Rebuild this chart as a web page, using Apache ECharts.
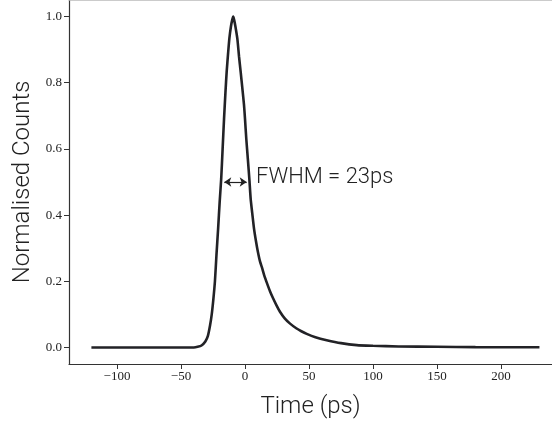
<!DOCTYPE html>
<html>
<head>
<meta charset="utf-8">
<script src="https://cdn.jsdelivr.net/npm/echarts@6/dist/echarts.min.js"></script>
<style>html,body{margin:0;padding:0;background:#fff}#c{width:552px;height:424px}</style>
</head>
<body>
<div id="c"></div>
<script>
// Time (ps)
const times = [-120, -60, -40, -37, -34, -31, -29, -27.3, -26, -24.7, -23.5, -22.3, -21.0, -19.8, -18.6, -17.5, -16.4, -15.3, -14.3, -13.2, -12.2, -11.0, -10.0, -9.2, -8.5, -7.5, -6.0, -4.7, -3.4, -2.0, -0.8, 0.0, 1.0, 2.2, 3.4, 4.4, 5.8, 7.0, 8.6, 10.0, 11.7, 13.5, 15.0, 17.0, 19.5, 22.1, 24.5, 27.3, 31, 35.2, 40, 44, 48.2, 55, 63.8, 75, 87.3, 100, 120, 150, 180, 230];
// Normalised counts
const counts = [0, 0, 0, 0.002, 0.006, 0.018, 0.035, 0.067, 0.10, 0.147, 0.20, 0.28, 0.36, 0.44, 0.51, 0.60, 0.69, 0.77, 0.835, 0.89, 0.935, 0.97, 0.99, 1.0, 0.99, 0.97, 0.933, 0.88, 0.833, 0.78, 0.733, 0.69, 0.63, 0.57, 0.508, 0.45, 0.40, 0.36, 0.32, 0.29, 0.26, 0.238, 0.218, 0.196, 0.17, 0.147, 0.128, 0.108, 0.088, 0.072, 0.058, 0.049, 0.041, 0.031, 0.022, 0.013, 0.007, 0.005, 0.003, 0.002, 0.001, 0.0005];
const xTicks = [-100, -50, 0, 50, 100, 150, 200];
const yTicks = [0.0, 0.2, 0.4, 0.6, 0.8, 1.0];
const fwhmLabel = 'FWHM = 23ps';
const fwhmArrow = [[-16.2, 0.5], [1.3, 0.5]];
const fwhmTextAt = [8.6, 0.513];

const data = times.map((t, i) => [t, counts[i]]);
const chart = echarts.init(document.getElementById('c'));
const tickFont = {fontFamily: 'Liberation Serif', fontSize: 13, color: '#222'};
chart.setOption({
  animation: false,
  grid: {left: 69, right: 0, top: 0, height: 365},
  xAxis: [{
    type: 'value', min: -137.5, max: 239.8, interval: 50,
    name: 'Time (ps)', nameLocation: 'middle', nameGap: 31,
    nameTextStyle: {fontFamily: 'Roboto', fontWeight: 300, fontSize: 24, color: '#222'},
    axisLine: {onZero: false, lineStyle: {color: '#333', width: 1.2}},
    axisTick: {show: true, length: 5, lineStyle: {color: '#333'},
      customValues: xTicks},
    axisLabel: Object.assign({margin: 6, customValues: xTicks,
      formatter: v => String(v).replace('-', '\u2212')}, tickFont),
    splitLine: {show: false}
  }, {
    type: 'value', position: 'top', min: -137.5, max: 239.8,
    axisLine: {show: true, onZero: false, lineStyle: {color: '#bbb', width: 1.5}},
    axisTick: {show: false}, axisLabel: {show: false}, splitLine: {show: false}
  }],
  yAxis: {
    type: 'value', min: -0.05, max: 1.05,
    name: 'Normalised Counts', nameLocation: 'middle', nameGap: 33,
    nameTextStyle: {fontFamily: 'Roboto', fontWeight: 300, fontSize: 24, color: '#222'},
    axisLine: {show: true, onZero: false, lineStyle: {color: '#333', width: 1.2}},
    axisTick: {show: true, length: 5, lineStyle: {color: '#333'}, customValues: yTicks},
    axisLabel: Object.assign({margin: 7, customValues: yTicks,
      formatter: v => v.toFixed(1)}, tickFont),
    splitLine: {show: false}
  },
  series: [{
    type: 'line', data: data, showSymbol: false, smooth: 0.2,
    lineStyle: {color: '#222226', width: 2.6},
    markLine: {
      silent: true, symbol: ['arrow', 'arrow'], symbolSize: [7, 7],
      lineStyle: {color: '#222', width: 1.2, type: 'solid'},
      label: {show: false},
      data: [[{coord: fwhmArrow[0]}, {coord: fwhmArrow[1]}]]
    },
    markPoint: {
      symbol: 'circle', symbolSize: 0, silent: true,
      label: {show: true, position: 'right', distance: 0, formatter: fwhmLabel,
        fontFamily: 'Roboto', fontWeight: 300, fontSize: 22, color: '#222'},
      data: [{coord: fwhmTextAt}]
    }
  }]
});
</script>
</body>
</html>
